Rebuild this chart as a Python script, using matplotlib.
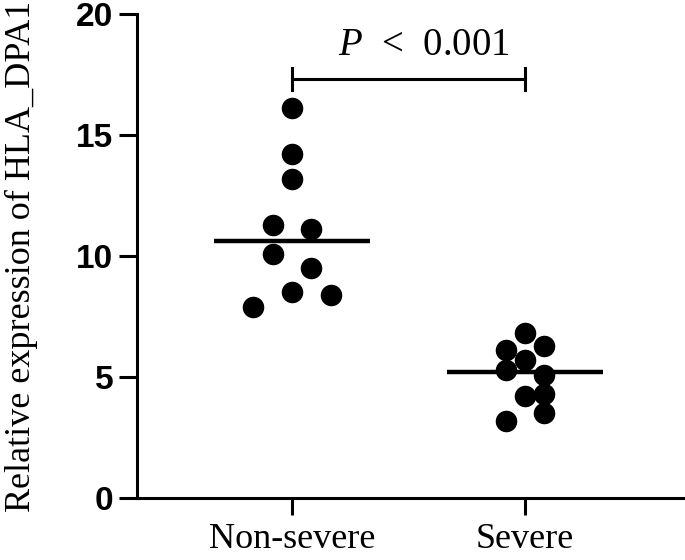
import numpy as np
import matplotlib.pyplot as plt

# data
groups = ["Non-severe", "Severe"]
non_severe = [16.1, 14.2, 13.2, 11.3, 11.1, 10.1, 9.5, 8.5, 8.4, 7.9]
severe = [6.1, 5.3, 3.2, 6.8, 5.7, 4.2, 6.3, 5.1, 4.3, 3.5]
# swarm column of each point (-2..2), as arranged in the original
non_severe_slot = [0, 0, 0, -1, 1, -1, 1, 0, 2, -2]
severe_slot = [-1, -1, -1, 0, 0, 0, 1, 1, 1, 1]
p_text = "$P$  <  0.001"

plt.rcParams['mathtext.fontset'] = 'custom'
plt.rcParams['mathtext.it'] = 'Liberation Serif:italic'
plt.rcParams['mathtext.rm'] = 'Liberation Serif'

fig = plt.figure(figsize=(6.85, 5.6), dpi=100)
ax = fig.add_axes([0.1996, 0.1107, 0.8004, 0.8643])

slot_w = 0.083
for i, (vals, slots) in enumerate([(non_severe, non_severe_slot), (severe, severe_slot)]):
    x = i + 1 + np.array(slots) * slot_w
    ax.plot(x, vals, 'o', color='black', markersize=14.5, clip_on=False)
    med = np.median(vals)
    ax.plot([i + 1 - 0.335, i + 1 + 0.335], [med, med], color='black', lw=3.2, solid_capstyle='butt')

# significance bracket
yb = 17.3
ax.plot([1, 2], [yb, yb], color='black', lw=2.2)
ax.plot([1, 1], [yb - 0.45, yb + 0.45], color='black', lw=2.2)
ax.plot([2, 2], [yb - 0.45, yb + 0.45], color='black', lw=2.2)
ax.text(1.565, 18.3, p_text, ha='center', va='baseline', fontsize=28, family='Liberation Serif')

ax.set_xlim(0.333, 2.687)
ax.set_ylim(0, 20)
ax.set_yticks([0, 5, 10, 15, 20])
ax.set_xticks([1, 2])
ax.set_xticklabels(groups, family='Liberation Serif', fontsize=26)
for lab in ax.get_yticklabels():
    lab.set_family('Liberation Sans')
    lab.set_fontweight('bold')
    lab.set_fontsize(24)

ax.set_ylabel("Relative expression of HLA_DPA1", family='Liberation Serif', fontsize=26)
ax.yaxis.set_label_coords(-0.18, 0.5)

for s in ['top', 'right']:
    ax.spines[s].set_visible(False)
for s in ['left', 'bottom']:
    ax.spines[s].set_linewidth(2.2)
ax.tick_params(axis='y', length=13, width=2.2, pad=4)
ax.tick_params(axis='x', length=12, width=2.2, pad=6)

fig.savefig("out.png", dpi=100)
